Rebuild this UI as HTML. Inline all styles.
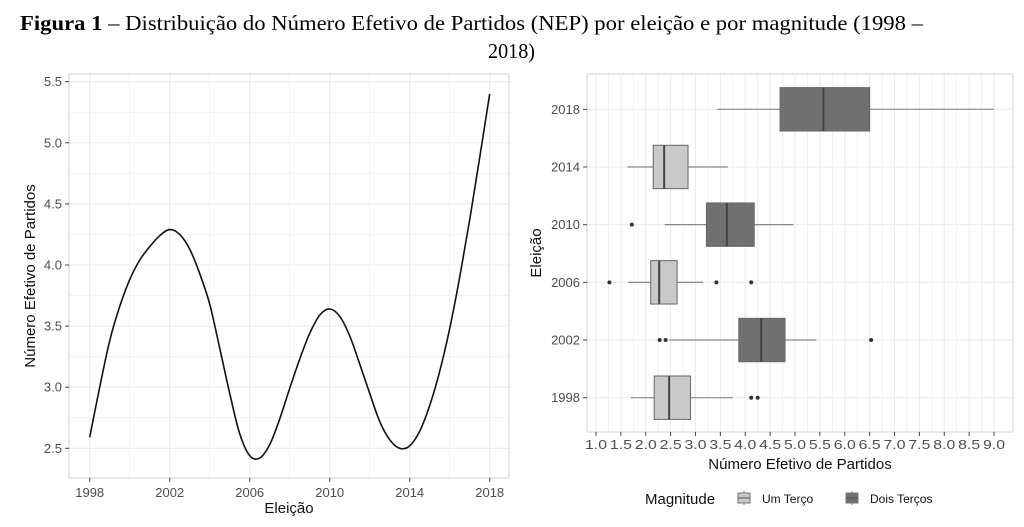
<!DOCTYPE html>
<html><head><meta charset="utf-8"><style>
html,body{margin:0;padding:0;background:#fff;}
svg{display:block;}
text{font-family:"Liberation Sans",sans-serif;}
</style></head><body>
<svg id="s" width="1024" height="527" xmlns="http://www.w3.org/2000/svg">
<rect width="1024" height="527" fill="#fff"/>
<text x="20" y="30" font-size="21" textLength="903" lengthAdjust="spacingAndGlyphs" style="font-family:'Liberation Serif',serif"><tspan font-weight="bold">Figura 1</tspan> – Distribuição do Número Efetivo de Partidos (NEP) por eleição e por magnitude (1998 –</text>
<text x="488" y="58" font-size="21" textLength="47" lengthAdjust="spacingAndGlyphs" style="font-family:'Liberation Serif',serif">2018)</text>
<g id="g"></g>
</svg>
<script>
const g=document.getElementById('g');let h='';
const lx=y=>89.7+(y-1998)*20, ly=v=>448.3-(v-2.5)*122.2;
for(let y=1998;y<=2018;y+=2){h+=`<line x1="${lx(y)}" x2="${lx(y)}" y1="74" y2="478" stroke="#ebebeb" stroke-width="${(y-1998)%4?0.6:1.1}"/>`;}
for(let v=2.5;v<=5.5001;v+=0.25){h+=`<line x1="69" x2="509" y1="${ly(v)}" y2="${ly(v)}" stroke="#ebebeb" stroke-width="${Math.abs(v*2-Math.round(v*2))<0.01?1.1:0.6}"/>`;}
h+=`<rect x="69" y="74" width="440" height="404" fill="none" stroke="#cfcfcf" stroke-width="1"/>`;
for(let y=1998;y<=2018;y+=4){h+=`<line x1="${lx(y)}" x2="${lx(y)}" y1="478" y2="482" stroke="#444"/><text x="${lx(y)}" y="497" font-size="13" fill="#4d4d4d" text-anchor="middle">${y}</text>`;}
for(let v=2.5;v<=5.5001;v+=0.5){h+=`<line x1="65" x2="69" y1="${ly(v)}" y2="${ly(v)}" stroke="#444"/><text x="62" y="${ly(v)+4.5}" font-size="13" fill="#4d4d4d" text-anchor="end">${v.toFixed(1)}</text>`;}
h+=`<text x="289" y="513" font-size="15" fill="#111" text-anchor="middle">Eleição</text>`;
h+=`<text transform="translate(35,276) rotate(-90)" font-size="15" fill="#111" text-anchor="middle">Número Efetivo de Partidos</text>`;
const vals=[2.59,3.0,3.38,3.66,3.88,4.04,4.15,4.24,4.29,4.25,4.13,3.93,3.68,3.32,2.95,2.62,2.44,2.42,2.53,2.74,2.99,3.23,3.44,3.59,3.64,3.58,3.42,3.19,2.95,2.72,2.57,2.50,2.52,2.64,2.85,3.13,3.48,3.90,4.37,4.88,5.40];
const pts=vals.map((v,i)=>[lx(1998+i*0.5),ly(v)]);
let d=`M${pts[0][0]},${pts[0][1]}`;
for(let i=0;i<pts.length-1;i++){const p0=pts[Math.max(0,i-1)],p1=pts[i],p2=pts[i+1],p3=pts[Math.min(pts.length-1,i+2)];
d+=` C${p1[0]+(p2[0]-p0[0])/6},${p1[1]+(p2[1]-p0[1])/6} ${p2[0]-(p3[0]-p1[0])/6},${p2[1]-(p3[1]-p1[1])/6} ${p2[0]},${p2[1]}`;}
h+=`<path d="${d}" fill="none" stroke="#111" stroke-width="1.6"/>`;
const rx=v=>596+(v-1)*49.75, ry=i=>397.7-i*57.68;
for(let v=1;v<=9.001;v+=0.25){h+=`<line x1="${rx(v)}" x2="${rx(v)}" y1="74" y2="432" stroke="#ebebeb" stroke-width="${Math.abs(v*2-Math.round(v*2))<0.01?1.1:0.6}"/>`;}
for(let i=0;i<6;i++){h+=`<line x1="587" x2="1013" y1="${ry(i)}" y2="${ry(i)}" stroke="#ebebeb" stroke-width="1.1"/>`;}
h+=`<rect x="587" y="74" width="426" height="358" fill="none" stroke="#cfcfcf"/>`;
const yrs=[1998,2002,2006,2010,2014,2018];
yrs.forEach((y,i)=>{h+=`<line x1="583" x2="587" y1="${ry(i)}" y2="${ry(i)}" stroke="#444"/><text x="580" y="${ry(i)+4.5}" font-size="13" fill="#4d4d4d" text-anchor="end">${y}</text>`;});
for(let v=1;v<=9.001;v+=0.5){h+=`<line x1="${rx(v)}" x2="${rx(v)}" y1="432" y2="436" stroke="#444"/><text x="${rx(v)}" y="449" font-size="13" fill="#4d4d4d" text-anchor="middle" textLength="22" lengthAdjust="spacingAndGlyphs">${v.toFixed(1)}</text>`;}
h+=`<text x="800" y="469" font-size="15" fill="#111" text-anchor="middle">Número Efetivo de Partidos</text>`;
h+=`<text transform="translate(541,253) rotate(-90)" font-size="15" fill="#111" text-anchor="middle">Eleição</text>`;
const B=[[2.17,2.47,2.9,1.7,3.75,[4.12,4.25],0],[3.87,4.32,4.8,2.47,5.43,[2.28,2.4,6.53],1],[2.1,2.27,2.63,1.65,3.15,[1.27,3.42,4.12],0],[3.22,3.63,4.18,2.38,4.97,[1.72],1],[2.15,2.37,2.85,1.63,3.65,[],0],[4.7,5.57,6.5,3.43,9.0,[],1]];
B.forEach((b,i)=>{const c=ry(i),hh=21.7,f=b[6]?'#707070':'#c9c9c9';
h+=`<line x1="${rx(b[3])}" x2="${rx(b[0])}" y1="${c}" y2="${c}" stroke="#888" stroke-width="1.2"/><line x1="${rx(b[2])}" x2="${rx(b[4])}" y1="${c}" y2="${c}" stroke="#888" stroke-width="1.2"/>`;
h+=`<rect x="${rx(b[0])}" y="${c-hh}" width="${rx(b[2])-rx(b[0])}" height="${2*hh}" fill="${f}" stroke="#666" stroke-width="1"/>`;
h+=`<line x1="${rx(b[1])}" x2="${rx(b[1])}" y1="${c-hh}" y2="${c+hh}" stroke="#444" stroke-width="2"/>`;
b[5].forEach(o=>{h+=`<circle cx="${rx(o)}" cy="${c}" r="2" fill="#333"/>`;});});
h+=`<text x="645" y="504" font-size="15" fill="#111">Magnitude</text>`;
const lg=(x,f)=>`<line x1="${x+6}" x2="${x+6}" y1="491" y2="505" stroke="#888"/><rect x="${x}" y="493" width="12" height="10" fill="${f}" stroke="#777"/><line x1="${x}" x2="${x+12}" y1="498" y2="498" stroke="#555"/>`;
h+=lg(738,'#c9c9c9')+`<text x="762" y="503" font-size="12" fill="#111">Um Terço</text>`;
h+=lg(846,'#707070')+`<text x="870" y="503" font-size="12" fill="#111">Dois Terços</text>`;
g.innerHTML=h;
</script>
</body></html>
